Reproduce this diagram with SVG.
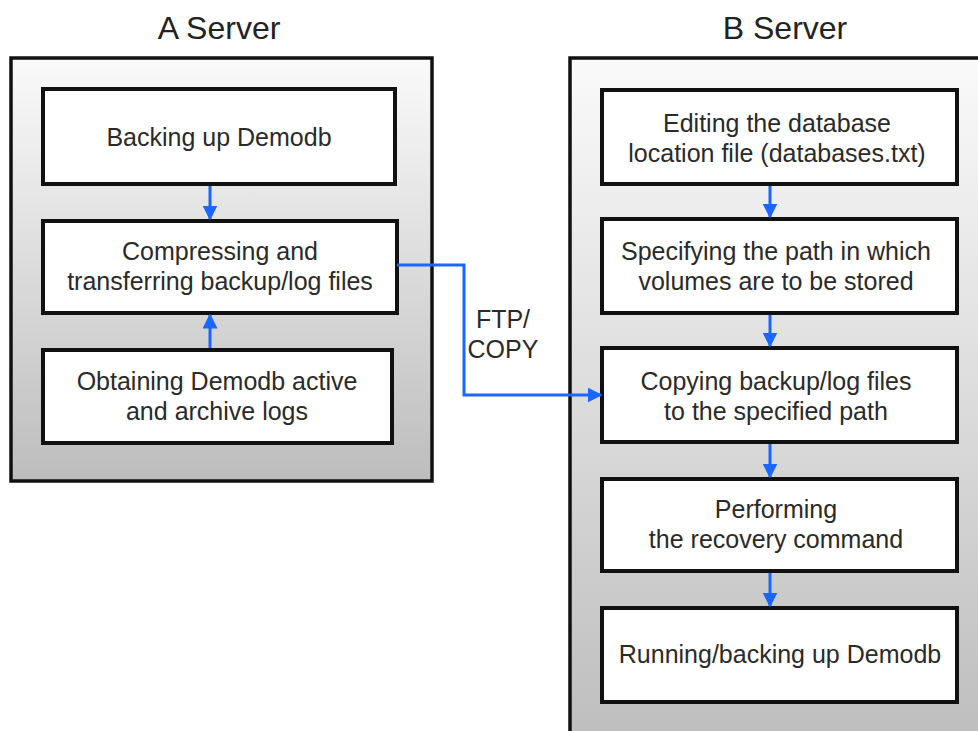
<svg xmlns="http://www.w3.org/2000/svg" width="978" height="731" viewBox="0 0 978 731">
  <style>
    .title { font-family: "Liberation Sans", Arial, sans-serif; font-size: 32px; fill: #222; text-anchor: middle; }
    .label { font-family: "Liberation Sans", Arial, sans-serif; font-size: 25px; fill: #2a2a2a; text-anchor: middle; }
    .server { stroke: #111; stroke-width: 3.5; fill: url(#shade); }
    .step { stroke: #111; stroke-width: 4; fill: #fff; }
    .flow { stroke: #1a66ff; stroke-width: 3; fill: none; marker-end: url(#head); }
  </style>
  <defs>
    <linearGradient id="shade" x1="0" y1="0" x2="0" y2="1">
      <stop offset="0" stop-color="#fafafa"/>
      <stop offset="1" stop-color="#bdbdbd"/>
    </linearGradient>
    <marker id="head" viewBox="0 0 10 10" refX="9" refY="5" markerWidth="5" markerHeight="5" markerUnits="strokeWidth" orient="auto">
      <path d="M0,0 L10,5 L0,10 z" fill="#1a66ff"/>
    </marker>
  </defs>

  <!-- server containers -->
  <g id="server-a">
    <rect class="server" x="11" y="58" width="421" height="423"/>
    <text class="title" x="219" y="39">A Server</text>
  </g>
  <g id="server-b">
    <rect class="server" x="570" y="58" width="430" height="690"/>
    <text class="title" x="785" y="39">B Server</text>
  </g>

  <!-- A Server steps -->
  <g id="a-backup">
    <rect class="step" x="43" y="89" width="352" height="95"/>
    <text class="label" x="219" y="146">Backing up Demodb</text>
  </g>
  <g id="a-compress">
    <rect class="step" x="43" y="221" width="354" height="92"/>
    <text class="label" x="220" y="260">Compressing and</text>
    <text class="label" x="220" y="290">transferring backup/log files</text>
  </g>
  <g id="a-logs">
    <rect class="step" x="43" y="350" width="349" height="93"/>
    <text class="label" x="217" y="390">Obtaining Demodb active</text>
    <text class="label" x="217" y="420">and archive logs</text>
  </g>

  <!-- B Server steps -->
  <g id="b-edit">
    <rect class="step" x="602" y="90" width="355" height="94"/>
    <text class="label" x="777" y="132">Editing the database</text>
    <text class="label" x="777" y="162">location file (databases.txt)</text>
  </g>
  <g id="b-path">
    <rect class="step" x="602" y="219" width="355" height="94"/>
    <text class="label" x="776" y="260">Specifying the path in which</text>
    <text class="label" x="776" y="290">volumes are to be stored</text>
  </g>
  <g id="b-copy">
    <rect class="step" x="602" y="348" width="355" height="94"/>
    <text class="label" x="776" y="390">Copying backup/log files</text>
    <text class="label" x="776" y="420">to the specified path</text>
  </g>
  <g id="b-recover">
    <rect class="step" x="602" y="479" width="355" height="92"/>
    <text class="label" x="776" y="518">Performing</text>
    <text class="label" x="776" y="548">the recovery command</text>
  </g>
  <g id="b-run">
    <rect class="step" x="602" y="608" width="355" height="94"/>
    <text class="label" x="780" y="663">Running/backing up Demodb</text>
  </g>

  <!-- connectors -->
  <g id="connectors">
    <line class="flow" x1="210" y1="186" x2="210" y2="219"/>
    <line class="flow" x1="210" y1="348" x2="210" y2="315"/>
    <polyline class="flow" points="397,265 464,265 464,395 601,395"/>
    <line class="flow" x1="770" y1="186" x2="770" y2="217"/>
    <line class="flow" x1="770" y1="315" x2="770" y2="346"/>
    <line class="flow" x1="770" y1="444" x2="770" y2="477"/>
    <line class="flow" x1="770" y1="573" x2="770" y2="606"/>
    <text class="label" x="503" y="328">FTP/</text>
    <text class="label" x="503" y="358">COPY</text>
  </g>
</svg>
